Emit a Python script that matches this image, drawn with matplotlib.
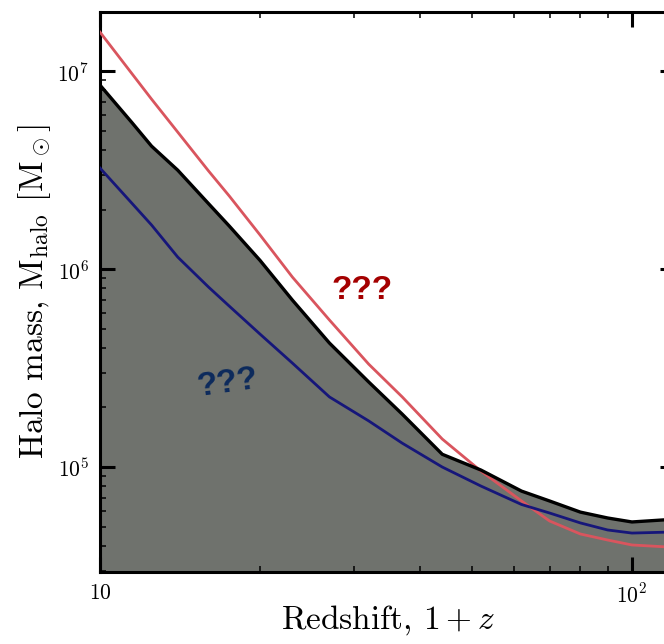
import matplotlib
matplotlib.use("Agg")
import matplotlib.pyplot as plt
from matplotlib.ticker import FixedLocator, FixedFormatter, LogLocator, NullFormatter

plt.rcParams["font.family"] = "serif"
plt.rcParams["font.serif"] = ["cmr10", "DejaVu Serif"]
plt.rcParams["mathtext.fontset"] = "cm"
plt.rcParams["axes.formatter.use_mathtext"] = True

# 1 + z sample points
one_plus_z = [10, 11.5, 12.5, 14, 16, 17.5, 20, 23, 27, 32, 37, 44, 52, 62, 70, 80, 90, 100, 120]

# minimum halo mass (black, shaded region below)
m_black = [8.5e6, 5.47e6, 4.18e6, 3.16e6, 2.14e6, 1.65e6, 1.105e6, 6.97e5, 4.23e5, 2.69e5,
           1.85e5, 1.16e5, 9.66e4, 7.56e4, 6.74e4, 5.92e4, 5.53e4, 5.28e4, 5.45e4]
# red curve
m_red = [1.574e7, 9.66e6, 7.22e6, 4.92e6, 3.13e6, 2.34e6, 1.485e6, 9.11e5, 5.53e5, 3.31e5,
         2.26e5, 1.385e5, 9.55e4, 6.74e4, 5.34e4, 4.59e4, 4.28e4, 4.04e4, 3.93e4]
# blue curve
m_blue = [3.24e6, 2.14e6, 1.67e6, 1.15e6, 8.11e5, 6.5e5, 4.69e5, 3.35e5, 2.26e5, 1.71e5,
          1.32e5, 1.0e5, 8.02e4, 6.47e4, 5.86e4, 5.22e4, 4.81e4, 4.64e4, 4.7e4]

x_ticks = [10, 100]
x_ticklabels = ["$10$", "$10^2$"]

fig = plt.figure(figsize=(6.64, 6.44), dpi=100)
ax = fig.add_axes([0.1506, 0.1118, 0.866, 0.8696])

ax.fill_between(one_plus_z, 1e4, m_black, color="#6f726d", lw=0, zorder=1)
ax.plot(one_plus_z, m_red, color="#d9555e", lw=2.0, zorder=3)
ax.plot(one_plus_z, m_blue, color="#16167a", lw=2.0, zorder=3)
ax.plot(one_plus_z, m_black, color="black", lw=2.4, zorder=4)

ax.set_xscale("log")
ax.set_yscale("log")
ax.set_xlim(10, 120.5)
ax.set_ylim(2.95e4, 1.99e7)

ax.xaxis.set_major_locator(FixedLocator(x_ticks))
ax.xaxis.set_major_formatter(FixedFormatter(x_ticklabels))
ax.xaxis.set_minor_locator(LogLocator(base=10, subs=range(2, 10)))
ax.xaxis.set_minor_formatter(NullFormatter())
ax.yaxis.set_minor_locator(LogLocator(base=10, subs=range(2, 10)))
ax.yaxis.set_minor_formatter(NullFormatter())

ax.tick_params(which="both", direction="in", top=True, right=True)
ax.tick_params(which="major", length=11, width=2.2, labelsize=15.5, pad=8)
ax.tick_params(which="minor", length=4, width=1.1)
for sp in ax.spines.values():
    sp.set_linewidth(2.2)

ax.set_xlabel(r"Redshift, $1+z$", fontsize=24, labelpad=-3)
ax.set_ylabel(r"Halo mass, $\mathrm{M_{halo}}$ [$\mathrm{M_\odot}$]", fontsize=24, labelpad=3)

qfont = ["Liberation Sans", "DejaVu Sans"]
ax.text(31.1, 7.8e5, "???", color="#a40000", fontsize=24, fontweight="bold",
        family=qfont, ha="center", va="center", zorder=5)
ax.text(17.4, 2.66e5, "???", color="#0c2a5c", fontsize=24, fontweight="bold",
        family=qfont, ha="center", va="center", rotation=8, zorder=5)

fig.savefig("out.png", dpi=100)
